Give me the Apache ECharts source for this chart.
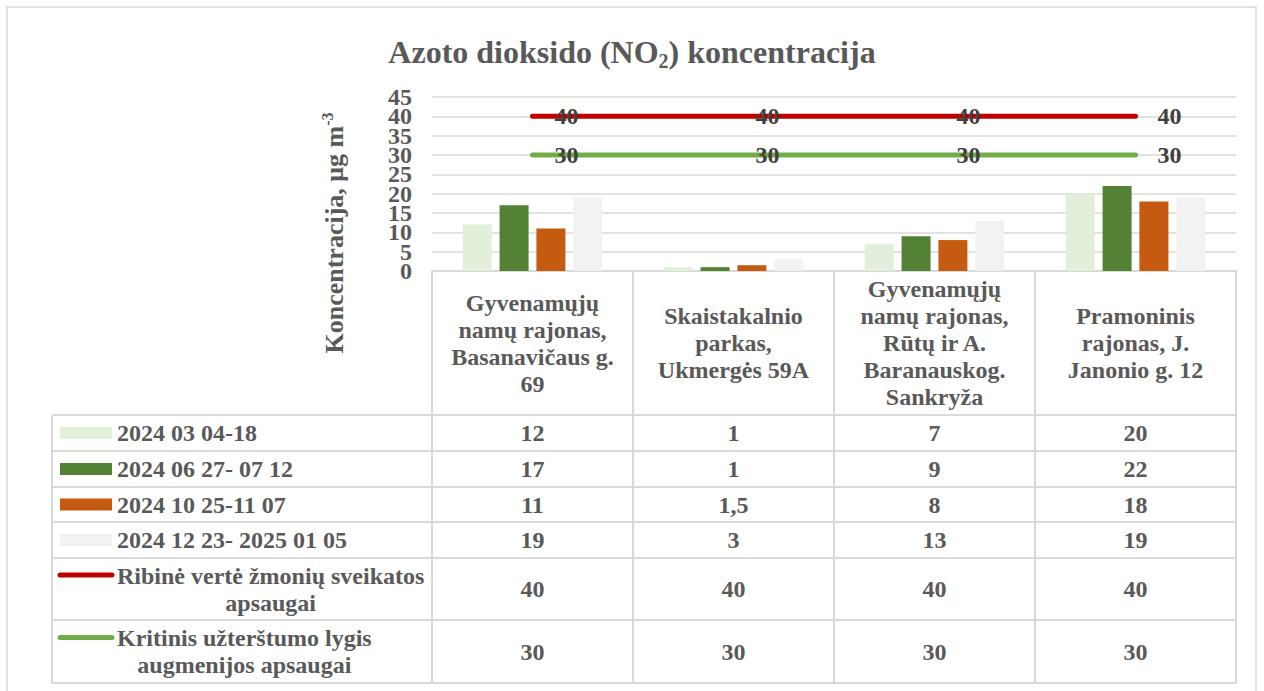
<!DOCTYPE html>
<html>
<head>
<meta charset="utf-8">
<script src="https://cdn.jsdelivr.net/npm/echarts@6/dist/echarts.min.js"></script>
<style>
  html, body { margin: 0; padding: 0; background: #fff; }
  #chart { width: 1264px; height: 691px; }
</style>
</head>
<body>
<div id="chart"></div>
<script>
// categories (stations), line breaks as shown in the table header
var categories = [
    'Gyvenamųjų\nnamų rajonas,\nBasanavičaus g.\n69',
    'Skaistakalnio\nparkas,\nUkmergės 59A',
    'Gyvenamųjų\nnamų rajonas,\nRūtų ir A.\nBaranauskog.\nSankryža',
    'Pramoninis\nrajonas, J.\nJanonio g. 12'
];

// measurement periods
var march = [12, 1, 7, 20];
var summer = [17, 1, 9, 22];
var autumn = [11, 1.5, 8, 18];
var winter = [19, 3, 13, 19];
// limit values
var healthLimit = [40, 40, 40, 40];
var vegetationLimit = [30, 30, 30, 30];

var yTicks = [0, 45, 5]; // min, max, step

var FONT = '"Liberation Serif", "Times New Roman", serif';
var TXT = '#595959';
var GRIDC = '#D9D9D9';

var seriesDefs = [
    {name: '2024 03 04-18', type: 'bar', data: march, color: '#E2EFDA'},
    {name: '2024 06 27- 07 12', type: 'bar', data: summer, color: '#548235'},
    {name: '2024 10 25-11 07', type: 'bar', data: autumn, color: '#C55A11'},
    {name: '2024 12 23- 2025 01 05', type: 'bar', data: winter, color: '#F2F2F2'},
    {name: 'Ribinė vertė žmonių sveikatos\napsaugai', type: 'line', data: healthLimit, color: '#C00000'},
    {name: 'Kritinis užterštumo lygis\naugmenijos apsaugai', type: 'line', data: vegetationLimit, color: '#70AD47'}
];

// layout of the data table under the plot
var gridLeft = 432, gridRight = 1236, gridTop = 97, gridBottom = 271;
var tableLeft = 52;
var rowLines = [415, 451, 487, 522, 558, 620, 683];
var colW = (gridRight - gridLeft) / categories.length;

var fmt = function (v) { return String(v).replace('.', ','); };

// text width, used to centre the 2nd line of a legend name under the 1st
var ctx = document.createElement('canvas').getContext('2d');
ctx.font = 'bold 24px ' + FONT;
var textW = function (t) { return ctx.measureText(t).width; };

var series = [];
for (var i = 0; i < seriesDefs.length; i++) {
    var d = seriesDefs[i];
    if (d.type === 'bar') {
        series.push({
            name: d.name, type: 'bar', data: d.data,
            barWidth: 29, barGap: '27%',
            itemStyle: {color: d.color},
            silent: true
        });
    } else {
        series.push({
            name: d.name, type: 'line', data: d.data,
            symbol: 'circle', symbolSize: 2,
            itemStyle: {color: d.color},
            lineStyle: {color: d.color, width: 5, cap: 'round'},
            label: {
                show: true, position: 'right', distance: 21,
                fontFamily: FONT, fontSize: 24, fontWeight: 'bold', color: '#404040'
            },
            silent: true, z: 5
        });
    }
}

// table graphics
var graphic = [];
var gline = function (x1, y1, x2, y2) {
    graphic.push({
        type: 'line', silent: true,
        shape: {x1: x1, y1: y1, x2: x2, y2: y2},
        style: {stroke: GRIDC, lineWidth: 2}
    });
};
var gtext = function (x, y, t, align) {
    graphic.push({
        type: 'text', silent: true, x: x, y: y,
        style: {
            text: t, fontFamily: FONT, fontSize: 24, fontWeight: 'bold',
            fill: TXT, align: align, verticalAlign: 'middle'
        }
    });
};
// outer chart border
graphic.push({
    type: 'rect', silent: true,
    shape: {x: 7, y: 7, width: 1249, height: 700},
    style: {fill: null, stroke: GRIDC, lineWidth: 1.5}
});
// vertical lines
for (var c = 0; c <= categories.length; c++) {
    gline(gridLeft + c * colW, gridBottom, gridLeft + c * colW, rowLines[rowLines.length - 1]);
}
gline(tableLeft, rowLines[0], tableLeft, rowLines[rowLines.length - 1]);
// horizontal lines
for (var r = 0; r < rowLines.length; r++) {
    gline(tableLeft, rowLines[r], gridRight, rowLines[r]);
}
// rows: legend key, series name, values
for (var s = 0; s < seriesDefs.length; s++) {
    var def = seriesDefs[s];
    var rowTop = rowLines[s], rowBot = rowLines[s + 1];
    var cy = (rowTop + rowBot) / 2;
    var parts = def.name.split('\n');
    var keyY = parts.length > 1 ? cy - 14 : cy;
    if (def.type === 'bar') {
        graphic.push({
            type: 'rect', silent: true,
            shape: {x: 60, y: keyY - 6, width: 52, height: 12},
            style: {fill: def.color}
        });
    } else {
        graphic.push({
            type: 'line', silent: true,
            shape: {x1: 60, y1: keyY, x2: 112, y2: keyY},
            style: {stroke: def.color, lineWidth: 5, lineCap: 'round'}
        });
    }
    if (parts.length === 1) {
        gtext(117, cy, parts[0], 'left');
    } else {
        gtext(117, cy - 13.5, parts[0], 'left');
        gtext(117 + textW(parts[0]) / 2, cy + 13.5, parts[1], 'center');
    }
    for (var k = 0; k < def.data.length; k++) {
        gtext(gridLeft + (k + 0.5) * colW, cy, fmt(def.data[k]), 'center');
    }
}
// y axis title
graphic.push({
    type: 'text', silent: true, x: 334, y: 233, rotation: Math.PI / 2,
    style: {
        text: '{a|Koncentracija, μg m}{s|-3}',
        align: 'center', verticalAlign: 'middle',
        rich: {
            a: {fontFamily: FONT, fontSize: 26, fontWeight: 'bold', fill: TXT, lineHeight: 30},
            s: {fontFamily: FONT, fontSize: 16, fontWeight: 'bold', fill: TXT, verticalAlign: 'top', lineHeight: 16}
        }
    }
});

// two identical value axes: one labels the tens, the other the fives,
// so that the tightly packed tick labels are not dropped as overlapping
var yLabelStyle = {
    margin: 20, showMinLabel: true, showMaxLabel: true, hideOverlap: false,
    fontFamily: FONT, fontSize: 24, fontWeight: 'bold', color: TXT
};
var makeY = function (even) {
    var lbl = echarts.util.extend({
        formatter: function (v) { return ((v / yTicks[2]) % 2 === 0) === even ? String(v) : ''; }
    }, yLabelStyle);
    return {
        type: 'value', min: yTicks[0], max: yTicks[1], interval: yTicks[2],
        position: 'left', offset: 0,
        axisLine: {show: false}, axisTick: {show: false},
        axisLabel: lbl,
        splitLine: {show: even, lineStyle: {color: GRIDC, width: 1.5}}
    };
};

var chart = echarts.init(document.getElementById('chart'), null, {renderer: 'svg'});
chart.setOption({
    backgroundColor: '#fff',
    animation: false,
    title: {
        text: '{t|Azoto dioksido (NO}{b|2}{t|) koncentracija}',
        left: 'center', top: 28,
        textStyle: {
            rich: {
                t: {fontFamily: FONT, fontSize: 32, fontWeight: 'bold', color: TXT, lineHeight: 38},
                b: {fontFamily: FONT, fontSize: 20, fontWeight: 'bold', color: TXT, verticalAlign: 'bottom', lineHeight: 16}
            }
        }
    },
    grid: {left: gridLeft, right: 1264 - gridRight, top: gridTop, bottom: 691 - gridBottom},
    xAxis: {
        type: 'category', data: categories,
        axisLine: {lineStyle: {color: GRIDC, width: 2}},
        axisTick: {show: false},
        axisLabel: {
            interval: 0, margin: 72, verticalAlign: 'middle', lineHeight: 27,
            fontFamily: FONT, fontSize: 24, fontWeight: 'bold', color: TXT
        }
    },
    yAxis: [makeY(true), makeY(false)],
    series: series,
    graphic: graphic
});
</script>
</body>
</html>
